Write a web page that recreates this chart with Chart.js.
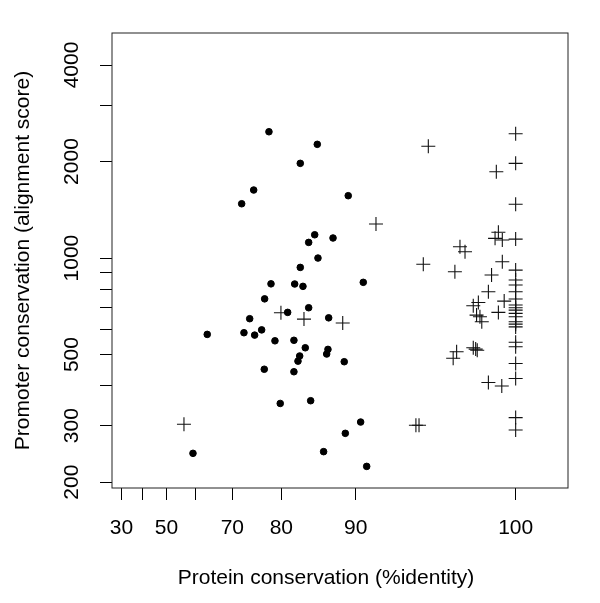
<!DOCTYPE html>
<html>
<head>
<meta charset="utf-8">
<script src="https://cdn.jsdelivr.net/npm/chart.js@4.4.0/dist/chart.umd.min.js"></script>
<style>
  body { margin: 0; background: #fff; }
</style>
</head>
<body>
<canvas id="grafico" width="600" height="603"></canvas>
<script>
// Puntos (pch 19): identidad de proteina y puntaje de alineamiento
var dotIdentity = [77.78, 85.47, 83.05, 74.77, 72.17, 89.21, 85.12, 84.28, 87.47, 85.56,
                   83.05, 78.16, 82.19, 83.45, 76.96, 90.76, 84.28, 81.06, 73.93, 86.94,
                   63.41, 72.68, 74.97, 76.38, 78.88, 82.07, 83.79, 86.85, 86.69, 82.96,
                   82.7, 88.77, 76.89, 82.07, 79.81, 84.56, 90.5, 88.89, 59.13, 86.3, 91.09];
var dotScore = [2477, 2263, 1974, 1630, 1477, 1565, 1182, 1119, 1155, 1000,
                935, 831, 830, 816, 746, 840, 700, 677, 647, 651,
                578, 585, 575, 597, 552, 554, 525, 519, 502, 495,
                477, 475, 450, 442, 352, 359, 308, 284, 246, 249, 224];

// Cruces (pch 3)
var crossIdentity = [56.2, 79.93, 83.6, 88.6, 91.95, 95.08, 95.29, 95.89, 95.57, 97.67,
                     97.92, 97.41, 97.32, 97.5, 98.31, 98.42, 98.49, 98.31, 98.54, 98.46,
                     98.61, 98.69, 98.97, 99.1, 98.97, 99.5, 99.37, 99.59, 99.52, 99.37,
                     99.24, 99.52, 99.29,
                     100, 100, 100, 100, 100, 100, 100, 100, 100, 100, 100, 100,
                     100, 100, 100, 100, 100, 100, 100, 100, 100, 100, 100];
var crossScore = [303, 675, 645, 627, 1277, 301, 301, 2231, 956, 1085,
                  1046, 906, 487, 510, 525, 520, 516, 710, 727, 664,
                  656, 633, 785, 885, 409, 399, 677, 734, 974, 1203,
                  1152, 1138, 1859,
                  2442, 1974, 1471, 1146, 917, 854, 824, 785, 745, 714, 700, 688,
                  672, 656, 633, 622, 610, 546, 529, 469, 421, 318, 291];

// Marcas de los ejes
var xTicks = [30, 40, 50, 60, 70, 80, 90, 100];
var xLabels = [30, 50, 70, 80, 90, 100];
var yTicks = [200, 300, 400, 500, 600, 700, 800, 900, 1000, 2000, 3000, 4000];
var yLabels = [200, 300, 500, 1000, 2000, 4000];

// Escala del eje X: -log(105 - x)
var X_OFFSET = 105;
var X_TITLE_SHIFT = -14; // el titulo del eje X esta un poco a la izquierda
function tf(v) { return -Math.log(X_OFFSET - v); }

class IdentityScale extends Chart.Scale {
    determineDataLimits() {
        var mm = this.getMinMax(true);
        this.min = Number.isFinite(this.options.min) ? this.options.min : mm.min;
        this.max = Number.isFinite(this.options.max) ? this.options.max : mm.max;
    }
    buildTicks() {
        return xTicks.map(function (v) { return { value: v }; });
    }
    configure() {
        super.configure();
        this._t0 = tf(this.min);
        this._t1 = tf(this.max);
    }
    getLabelForValue(v) { return String(v); }
    getPixelForValue(v) {
        return this.getPixelForDecimal((tf(v) - this._t0) / (this._t1 - this._t0));
    }
    getValueForPixel(p) {
        var t = this._t0 + this.getDecimalForPixel(p) * (this._t1 - this._t0);
        return X_OFFSET - Math.exp(-t);
    }
    drawTitle() {
        this.ctx.save();
        this.ctx.translate(X_TITLE_SHIFT, 0);
        super.drawTitle();
        this.ctx.restore();
    }
}
IdentityScale.id = 'identity';
IdentityScale.defaults = {};
Chart.register(IdentityScale);

// Caja alrededor del area del grafico (estilo R)
var boxPlugin = {
    id: 'caja',
    afterDraw: function (chart) {
        var a = chart.chartArea;
        var ctx = chart.ctx;
        ctx.save();
        ctx.strokeStyle = '#222';
        ctx.lineWidth = 1;
        ctx.strokeRect(a.left, a.top, a.right - a.left, a.bottom - a.top);
        ctx.restore();
    }
};

var fuente = { family: "'Liberation Sans', Arial, Helvetica, sans-serif", size: 21 };
Chart.defaults.font.family = fuente.family;
Chart.defaults.color = '#000';

var ctx = document.getElementById('grafico').getContext('2d');
var myChart = new Chart(ctx, {
    type: 'scatter',
    data: {
        datasets: [{
            label: 'dots',
            data: dotIdentity.map(function (x, i) { return { x: x, y: dotScore[i] }; }),
            pointStyle: 'circle',
            pointRadius: 3.3,
            backgroundColor: '#000',
            borderColor: '#000',
            borderWidth: 1
        }, {
            label: 'crosses',
            data: crossIdentity.map(function (x, i) { return { x: x, y: crossScore[i] }; }),
            pointStyle: 'cross',
            pointRadius: 7,
            borderColor: '#111',
            borderWidth: 1.1
        }]
    },
    options: {
        responsive: false,
        animation: false,
        layout: { padding: { top: 33, right: 32, left: 0, bottom: 0 } },
        plugins: {
            legend: { display: false },
            tooltip: { enabled: false }
        },
        scales: {
            x: {
                type: 'identity',
                min: 25.0,
                max: 101.51,
                grid: { display: true, drawOnChartArea: false, drawTicks: true, tickLength: 12, color: '#000', tickColor: '#000' },
                border: { display: false },
                ticks: {
                    font: fuente,
                    padding: 16,
                    autoSkip: false,
                    maxRotation: 0,
                    callback: function (v) { return xLabels.indexOf(v) >= 0 ? String(v) : ''; }
                },
                title: {
                    display: true,
                    text: 'Protein conservation (%identity)',
                    font: fuente,
                    padding: { top: 0, bottom: 12 }
                },
                afterFit: function (s) { s.height = 603 - 488; }
            },
            y: {
                type: 'logarithmic',
                min: 191.8,
                max: 5034,
                grid: { display: true, drawOnChartArea: false, drawTicks: true, tickLength: 12, color: '#000', tickColor: '#000' },
                border: { display: false },
                afterBuildTicks: function (s) {
                    s.ticks = yTicks.map(function (v) { return { value: v }; });
                },
                ticks: {
                    font: fuente,
                    padding: 4,
                    autoSkip: false,
                    minRotation: 90,
                    maxRotation: 90,
                    crossAlign: 'center',
                    callback: function (v) { return yLabels.indexOf(v) >= 0 ? String(v) : ''; }
                },
                title: {
                    display: true,
                    text: 'Promoter conservation (alignment score)',
                    font: fuente,
                    padding: { top: 11, bottom: 0 }
                },
                afterFit: function (s) { s.width = 112; }
            }
        }
    },
    plugins: [boxPlugin]
});
</script>
</body>
</html>
